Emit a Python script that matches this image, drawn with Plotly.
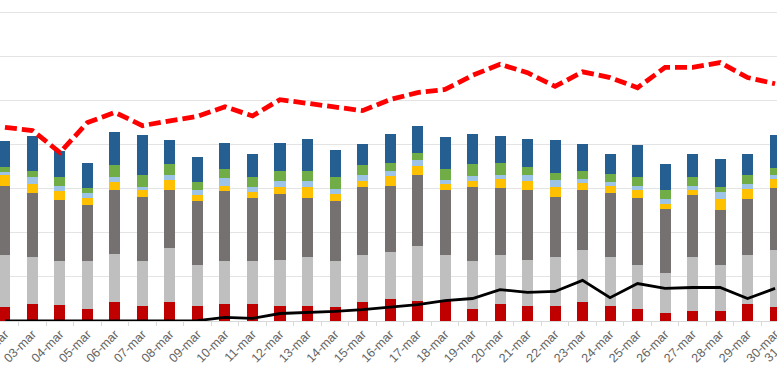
import plotly.graph_objects as go

days = ["02-mar", "03-mar", "04-mar", "05-mar", "06-mar", "07-mar", "08-mar", "09-mar",
        "10-mar", "11-mar", "12-mar", "13-mar", "14-mar", "15-mar", "16-mar", "17-mar",
        "18-mar", "19-mar", "20-mar", "21-mar", "22-mar", "23-mar", "24-mar", "25-mar",
        "26-mar", "27-mar", "28-mar", "29-mar", "30-mar"]
next_day = "31-mar"

s_red = [310, 390, 370, 280, 420, 340, 430, 340, 390, 390, 340, 340, 310, 440, 490,
         450, 450, 280, 390, 340, 340, 430, 340, 280, 180, 220, 220, 390, 310]
s_lgray = [1180, 1070, 1000, 1090, 1090, 1030, 1230, 930, 980, 980, 1050, 1120, 1060, 1050, 1070,
           1240, 1040, 1090, 1110, 1050, 1110, 1170, 1110, 1000, 900, 1240, 1060, 1100, 1300]
s_dgray = [1580, 1440, 1380, 1250, 1450, 1450, 1320, 1440, 1570, 1420, 1480, 1320, 1340, 1540, 1510,
           1630, 1470, 1660, 1520, 1590, 1370, 1360, 1450, 1500, 1460, 1390, 1230, 1280, 1400]
s_yellow = [250, 210, 190, 160, 190, 160, 210, 140, 130, 130, 180, 250, 170, 140, 210,
            190, 140, 140, 190, 190, 210, 160, 160, 190, 120, 120, 260, 230, 210]
s_lblue = [50, 160, 130, 120, 110, 70, 130, 110, 180, 130, 120, 140, 120, 130, 130,
           130, 90, 110, 110, 130, 160, 100, 90, 100, 110, 100, 150, 110, 100]
s_green = [130, 140, 190, 110, 280, 250, 230, 200, 200, 210, 240, 240, 260, 230, 170,
           170, 260, 270, 270, 190, 170, 190, 190, 190, 200, 190, 110, 190, 140]
s_blue = [590, 780, 590, 570, 740, 910, 560, 550, 590, 520, 630, 710, 610, 490, 660,
          620, 730, 680, 600, 640, 750, 610, 450, 740, 590, 530, 650, 490, 750]

line_red = [4390, 4320, 3820, 4500, 4730, 4430, 4540, 4640, 4860, 4650, 5020, 4930, 4840, 4770, 5020,
            5180, 5250, 5570, 5820, 5630, 5320, 5650, 5520, 5290, 5750, 5750, 5860, 5520, 5380]
line_black = [0, 0, 0, 0, 0, 0, 0, 10, 80, 60, 170, 190, 220, 260, 310,
              370, 460, 510, 710, 650, 670, 920, 530, 850, 740, 760, 760, 510, 740]

series = [
    ("s1", s_red, "#C00000"),
    ("s2", s_lgray, "#BFBFBF"),
    ("s3", s_dgray, "#767171"),
    ("s4", s_yellow, "#FFC000"),
    ("s5", s_lblue, "#9DC3E6"),
    ("s6", s_green, "#70AD47"),
    ("s7", s_blue, "#255E91"),
]

fig = go.Figure()
for name, vals, col in series:
    fig.add_trace(go.Bar(x=days, y=vals, name=name, marker=dict(color=col, line=dict(width=0))))

fig.add_trace(go.Scatter(x=days, y=line_black, mode="lines", name="l1",
                         line=dict(color="#000000", width=2.8), cliponaxis=False))
fig.add_trace(go.Scatter(x=days, y=line_red, mode="lines", name="l2",
                         line=dict(color="#FF0000", width=4.8, dash="12px,5px")))

x0, x1 = -0.18, 28.07
fig.update_layout(
    width=777, height=374,
    margin=dict(l=0, r=0, t=0, b=53, autoexpand=False),
    barmode="stack", bargap=0.6,
    plot_bgcolor="white", paper_bgcolor="white",
    showlegend=False,
    font=dict(family="Liberation Sans, Arial, sans-serif", size=12, color="#595959"),
    xaxis=dict(type="category", categoryarray=days + [next_day], range=[x0, x1],
               automargin=False,
               tickangle=-45, showgrid=False, showline=True, linecolor="#D9D9D9", linewidth=1,
               ticks="outside", tickson="boundaries", ticklen=4, tickcolor="#D9D9D9",
               tickfont=dict(size=12.5, color="#646464")),
    yaxis=dict(range=[0, 7279], dtick=1000, showgrid=True, gridcolor="#E4E4E4", gridwidth=1,
               automargin=False,
               zeroline=False, showticklabels=False, ticks=""),
)

# partially visible label of the next day, beyond the visible range
idx_next = len(days)
fig.add_annotation(text=next_day, xref="paper", yref="paper",
                   x=(idx_next - x0) / (x1 - x0), y=-0.01, xanchor="right", yanchor="top",
                   textangle=-45, showarrow=False,
                   font=dict(size=12.5, color="#646464"))

fig.write_html("out.html", config={"displayModeBar": False},
               post_script="document.body.style.margin='0';document.body.style.overflow='hidden';")
